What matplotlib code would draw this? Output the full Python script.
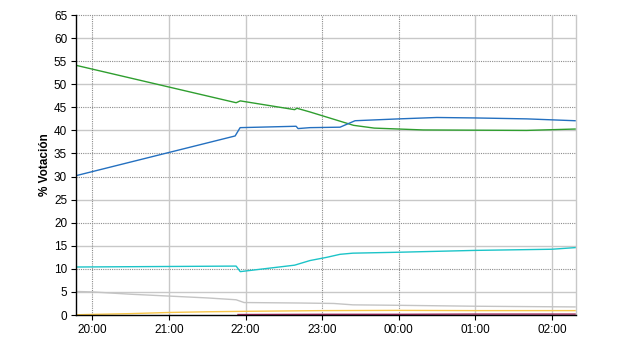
import matplotlib
matplotlib.use("Agg")
import matplotlib.pyplot as plt

# horas (20.0 = 20:00, 24.0 = 00:00 del dia siguiente)
t_verde = [19.787, 21.876, 21.93, 22.64, 22.67, 22.84, 23.41, 23.68, 24.32, 25.67, 26.302]
verde = [54.1, 46.0, 46.4, 44.5, 44.8, 44.0, 41.1, 40.5, 40.1, 40.0, 40.3]

t_azul = [19.787, 21.863, 21.928, 22.659, 22.685, 22.84, 23.233, 23.429, 24.0, 24.496, 25.005, 25.671, 26.302]
azul = [30.2, 38.8, 40.6, 40.9, 40.4, 40.6, 40.7, 42.1, 42.5, 42.8, 42.7, 42.5, 42.1]

t_cian = [19.787, 21.876, 21.93, 22.64, 22.84, 23.06, 23.233, 23.4, 24.0, 25.0, 26.0, 26.302]
cian = [10.4, 10.6, 9.4, 10.8, 11.8, 12.5, 13.15, 13.4, 13.6, 14.0, 14.25, 14.6]

t_gris = [19.787, 20.0, 20.5, 21.0, 21.5, 21.876, 21.98, 22.7, 23.15, 23.4, 24.0, 25.0, 26.302]
gris = [5.1, 5.0, 4.5, 4.1, 3.7, 3.3, 2.7, 2.6, 2.5, 2.2, 2.1, 1.9, 1.75]

t_amarillo = [19.787, 20.5, 21.0, 21.5, 22.0, 23.0, 24.0, 25.0, 26.302]
amarillo = [0.05, 0.3, 0.55, 0.7, 0.8, 0.95, 1.0, 0.95, 0.95]

t_granate = [21.9, 23.0, 24.0, 25.0, 26.302]
granate = [0.1, 0.15, 0.15, 0.2, 0.2]

horas = [20, 21, 22, 23, 24, 25, 26]
etiquetas = ["20:00", "21:00", "22:00", "23:00", "00:00", "01:00", "02:00"]

plt.rcParams['font.family'] = ['Liberation Sans', 'DejaVu Sans']

fig = plt.figure(figsize=(6.4, 3.5), dpi=100)
ax = fig.add_axes([0.119, 0.1, 0.7805, 0.857])

x0, x1 = 19.787, 26.31
ax.set_xlim(x0, x1)
ax.set_ylim(0, 65)

# rejilla: unas lineas punteadas y otras continuas, como en el original
punteadas_y = [10, 20, 30, 35, 45, 55, 65]
continuas_y = [5, 15, 25, 40, 50, 60]
punteadas_x = [20, 23, 24]
continuas_x = [21, 22, 25, 26]
for y in continuas_y:
    ax.axhline(y, color='#c8c8c8', lw=1.0, zorder=0)
for y in punteadas_y:
    ax.axhline(y, color='#8c8c8c', lw=0.8, ls=(0, (1, 1)), zorder=0, clip_on=False)
for x in continuas_x:
    ax.axvline(x, color='#c8c8c8', lw=1.0, zorder=0)
for x in punteadas_x:
    ax.axvline(x, color='#8c8c8c', lw=0.8, ls=(0, (1, 1)), zorder=0)
ax.axvline(x1, color='#c8c8c8', lw=1.0, zorder=0, clip_on=False)

ax.plot(t_gris, gris, color='#c4c4c4', lw=1.0)
ax.plot(t_amarillo, amarillo, color='#f7c64a', lw=1.0)
ax.plot(t_granate, granate, color='#a0285a', lw=1.0)
ax.plot(t_cian, cian, color='#1cc4c8', lw=1.0)
ax.plot(t_verde, verde, color='#2f9e2f', lw=1.0)
ax.plot(t_azul, azul, color='#2470c0', lw=1.0)

ax.set_xticks(horas)
ax.set_xticklabels(etiquetas)
ax.set_yticks(range(0, 66, 5))
ax.tick_params(direction='out', length=3.5, width=0.8, labelsize=8.5, colors='black', pad=3)

for s in ['top', 'right']:
    ax.spines[s].set_visible(False)
ax.spines['left'].set_linewidth(1.0)
ax.spines['bottom'].set_linewidth(1.0)

ax.set_ylabel("% Votación", fontsize=8.5, fontweight='bold', labelpad=2)

fig.savefig("out.png", dpi=100)
